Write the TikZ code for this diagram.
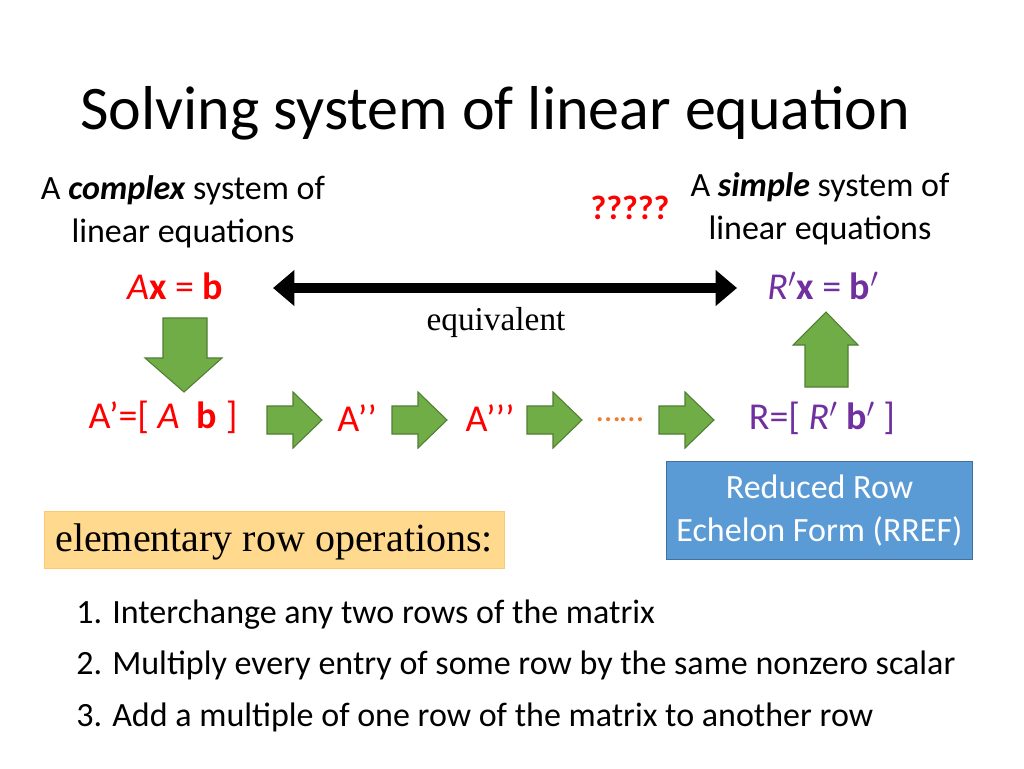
\documentclass[tikz,border=0pt]{standalone}
\usepackage{fontspec}
\setmainfont{Carlito}
\newfontfamily\serif{Liberation Serif}
\usetikzlibrary{arrows.meta}
\definecolor{myred}{HTML}{FF0000}
\definecolor{mypurple}{HTML}{7030A0}
\definecolor{gfill}{HTML}{70AD47}
\definecolor{gline}{HTML}{507E32}
\definecolor{bfill}{HTML}{5B9BD5}
\definecolor{bline}{HTML}{41719C}
\definecolor{ofill}{HTML}{FFD98E}
\definecolor{myorange}{HTML}{ED7D31}
\begin{document}
\begin{tikzpicture}[x=0.75pt,y=-0.75pt,
  txt/.style={font=\fontsize{25.5}{30}\selectfont,inner sep=0pt},
  big/.style={font=\fontsize{28.5}{32}\selectfont,inner sep=0pt},
  garrow/.style={draw=gline,fill=gfill,line width=0.8pt}]
\useasboundingbox (0,0) rectangle (1024,768);
\node[anchor=west,inner sep=0pt,font=\fontsize{46.5}{54}\selectfont] (title) at (80,113) {Solving system of linear equation};
\node[txt,align=center] (cx) at (183,212) {A \textbf{\textit{complex}} system of\\[2pt]linear equations};
\node[txt,text=myred,font=\fontsize{25.5}{30}\selectfont\bfseries] (q) at (630,208) {?????};
\node[txt,align=center] (sx) at (820,209) {A \textbf{\textit{simple}} system of\\[2pt]linear equations};
\node[big,text=myred] (axb) at (175,286) {\textit{A}\textbf{x} = \textbf{b}};
\node[big,text=mypurple] (rxb) at (823,286) {\textit{R}$'$\textbf{x} = \textbf{b}$'$};
\coordinate (dl) at (273,288); \coordinate (dr) at (737,288);
\draw[line width=7pt,{Triangle[length=16pt,width=26pt]}-{Triangle[length=16pt,width=26pt]}] (dl) -- (dr);
\node[inner sep=0pt,font=\serif\fontsize{25}{28}\selectfont] (eq) at (496,322) {equivalent};
\draw[garrow] (163,318) -- (207,318) -- (207,358) -- (222,358) -- (184,392) -- (145,358) -- (163,358) -- cycle;
\draw[garrow] (805,387) -- (848,387) -- (848,345) -- (858,345) -- (826,312) -- (793,345) -- (805,345) -- cycle;
\node[big,text=myred] (ap) at (163,417) {A’=[ \textit{A} \ \textbf{b} ]};
\node[big,text=myred] (app) at (357,418) {A’’};
\node[big,text=myred] (appp) at (490,418) {A’’’};
\node[txt,text=myorange] (dots) at (620,420) {……};
\node[big,text=mypurple] (r) at (822,418) {R=[ \textit{R}$'$ \textbf{b}$'$ ]};
\foreach \x in {267,392,527,659}
  \draw[garrow] (\x,406) -- ++(26,0) -- ++(0,-14) -- ++(29,28) -- ++(-29,28) -- ++(0,-14) -- ++(-26,0) -- cycle;
\node[draw=bline,fill=bfill,line width=0.8pt,minimum width=230pt,minimum height=74pt,inner sep=0pt,text=white,align=center,font=\fontsize{25.5}{30}\selectfont] (rref) at (819.5,510.5) {Reduced Row\\[2pt]Echelon Form (RREF)};
\node[draw=ofill!80!orange,fill=ofill,line width=0.5pt,minimum width=345pt,minimum height=43pt,inner sep=0pt] (ero) at (274,540) {};
\node[anchor=west,inner sep=0pt,font=\serif\fontsize{30}{34}\selectfont] (erot) at (55,542) {elementary row operations:};
\node[txt,anchor=west] (l1) at (76,615) {1. Interchange any two rows of the matrix};
\node[txt,anchor=west] (l2) at (76,665) {2. Multiply every entry of some row by the same nonzero scalar};
\node[txt,anchor=west] (l3) at (76,717) {3. Add a multiple of one row of the matrix to another row};
\end{tikzpicture}
\end{document}
